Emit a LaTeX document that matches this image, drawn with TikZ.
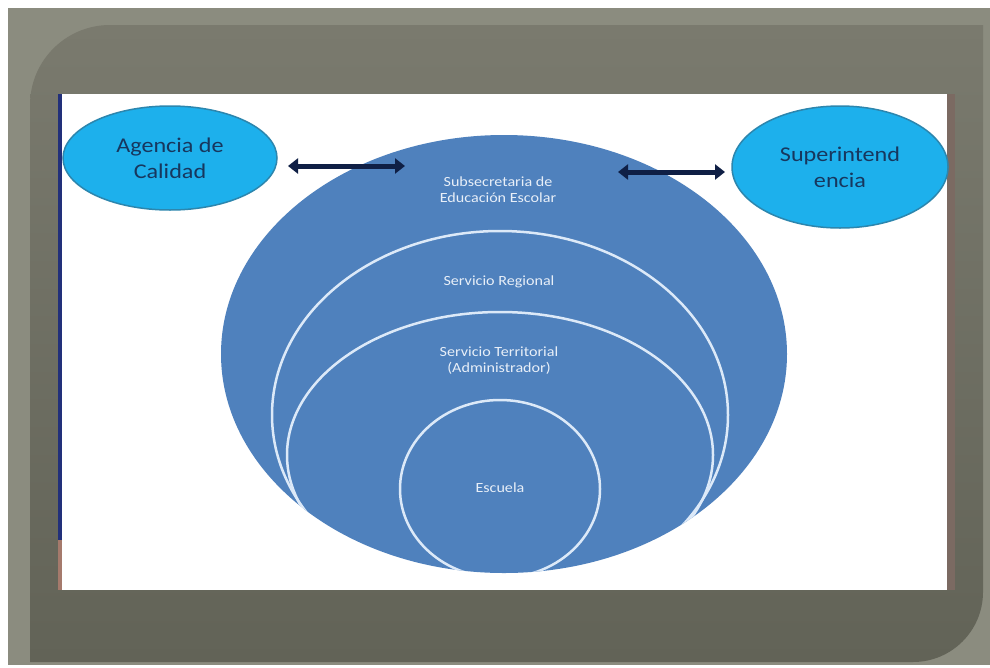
\documentclass[tikz,border=0pt]{standalone}
\usepackage{fontspec}
\setmainfont{Carlito}
\newfontfamily\slidefont[FakeStretch=1.15]{Carlito}
\usetikzlibrary{arrows.meta,shapes.geometric}

\definecolor{frameGrey}{HTML}{8B8C7F}
\definecolor{frameTop}{HTML}{7A7A6E}
\definecolor{frameDark}{HTML}{626357}
\definecolor{slideNavy}{HTML}{22307A}
\definecolor{slideBrown}{HTML}{A57A6C}
\definecolor{slideMauve}{HTML}{7B6A62}
\definecolor{layerBlue}{HTML}{4F81BD}
\definecolor{ringWhite}{HTML}{DCE9F8}
\definecolor{layerText}{HTML}{E8EFF8}
\definecolor{agencyFill}{HTML}{1DB0EC}
\definecolor{agencyLine}{HTML}{2C86AE}
\definecolor{agencyText}{HTML}{17375E}
\definecolor{arrowNavy}{HTML}{0F1F45}

\begin{document}
\begin{tikzpicture}[
    x=1pt, y=-1pt,
    % Style for the two bodies outside the system
    agency/.style={ellipse, draw=agencyLine, line width=1.5pt, fill=agencyFill,
        text=agencyText, font=\slidefont\fontsize{21}{26}\selectfont,
        align=center, inner sep=0pt},
    % Style for the white nested layers
    ring/.style={ellipse, draw=ringWhite, line width=2.5pt, inner sep=0pt},
    layer text/.style={text=layerText, font=\slidefont\fontsize{14}{16}\selectfont, align=center},
    link arrow/.style={draw=arrowNavy, line width=5pt,
        {Triangle[length=10pt,width=15pt]}-{Triangle[length=10pt,width=15pt]}}
]
    \useasboundingbox (0,0) rectangle (990,667);

    % --- 1. Slide frame ---
    \fill[frameGrey] (8,8) rectangle (990,665);
    \shade[top color=frameTop, bottom color=frameDark]
        (30,662) -- (30,105) arc[start angle=180, end angle=90, radius=80pt]
        -- (983,25) -- (983,592) arc[start angle=0, end angle=-90, radius=70pt]
        -- cycle;
    \fill[white] (60,94) rectangle (947,590);
    \fill[slideNavy] (58,94) rectangle (62,540);
    \fill[slideBrown] (58,540) rectangle (62,590);
    \fill[slideMauve] (947,94) rectangle (955,590);

    % --- 2. Nested layers ---
    \node[ellipse, fill=layerBlue, minimum width=566, minimum height=438, inner sep=0pt]
        (subsecretaria) at (504,354) {};
    \begin{scope}
        \clip (504,354) ellipse [x radius=283, y radius=219];
        \node[ring, minimum width=456, minimum height=368] (regional) at (500,415) {};
        \node[ring, minimum width=426, minimum height=286] (territorial) at (500,455) {};
        \node[ring, minimum width=200, minimum height=178] (escuela) at (500,489) {};
    \end{scope}

    \node[layer text] at (498,190) {Subsecretaria de\\Educación Escolar};
    \node[layer text] at (499,282) {Servicio Regional};
    \node[layer text] at (499,361) {Servicio Territorial\\(Administrador)};
    \node[layer text] at (500,488) {Escuela};

    % --- 3. Outside bodies ---
    \node[agency, minimum width=214, minimum height=104] (calidad) at (170,158) {Agencia de\\Calidad};
    \node[agency, minimum width=216, minimum height=122] (superint) at (840,167) {Superintend\\encia};

    % --- 4. Links ---
    \coordinate (calidad end) at (288,166);
    \coordinate (sub left) at (405,166);
    \coordinate (sub right) at (618,172);
    \coordinate (superint end) at (725,172);
    \draw[link arrow] (calidad end) -- (sub left);
    \draw[link arrow] (sub right) -- (superint end);

\end{tikzpicture}
\end{document}
